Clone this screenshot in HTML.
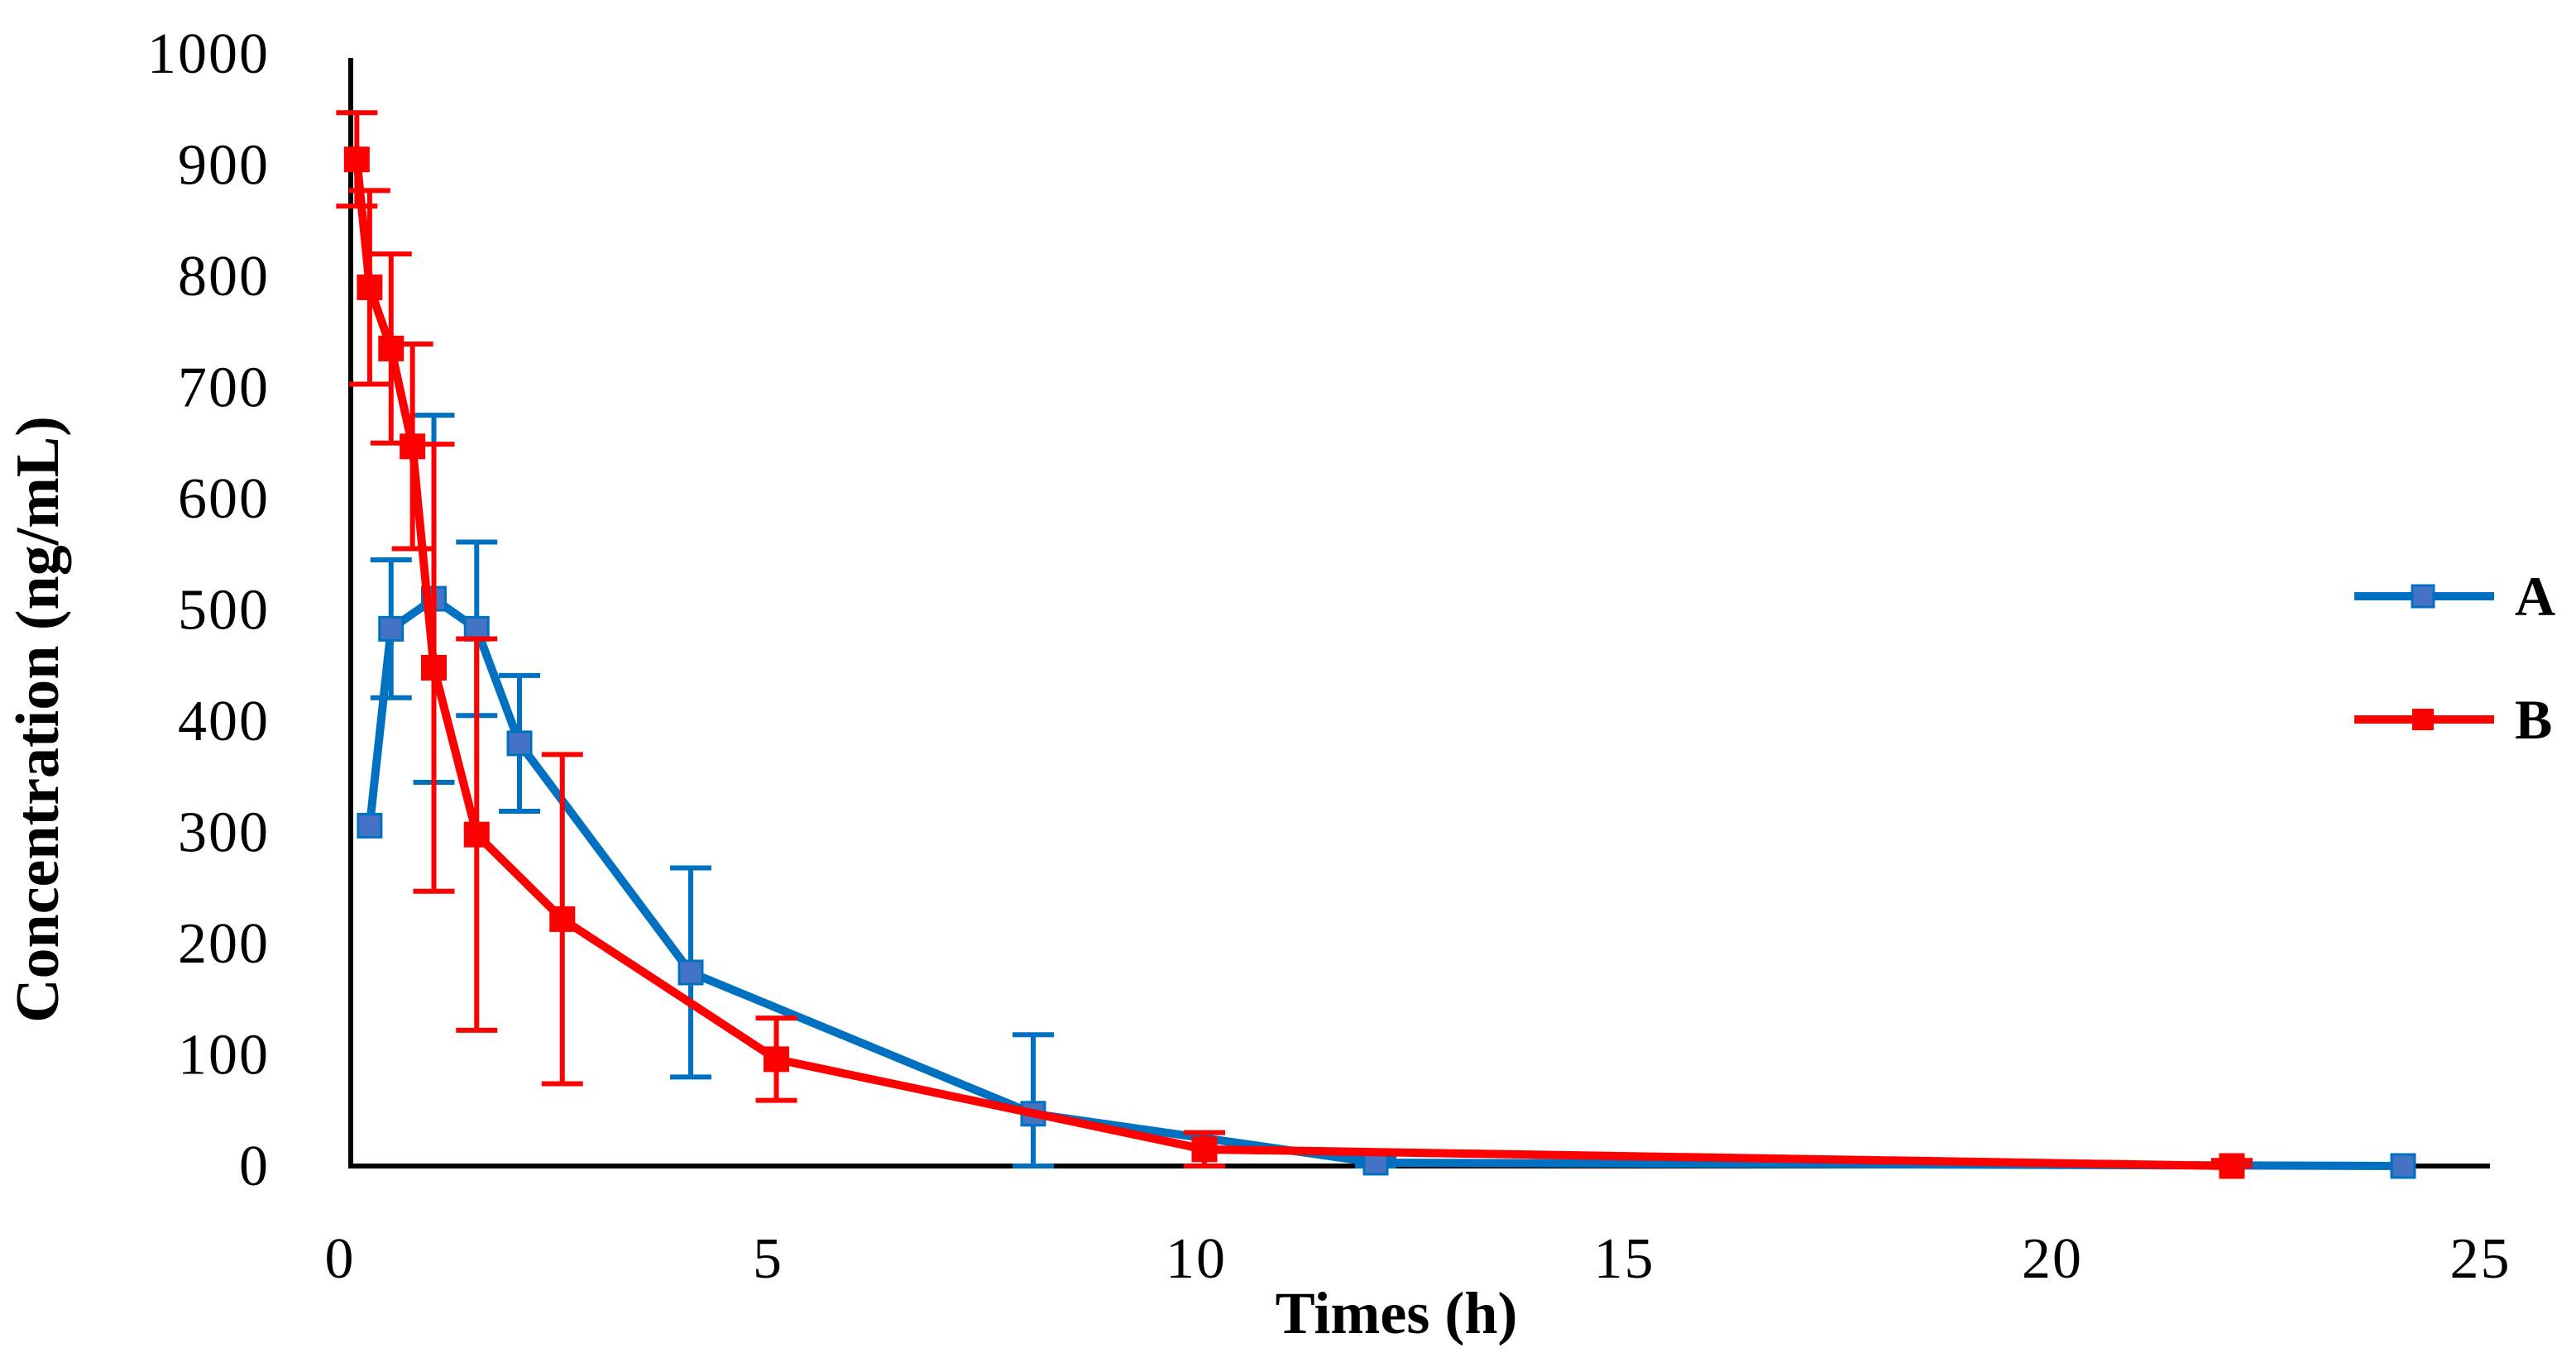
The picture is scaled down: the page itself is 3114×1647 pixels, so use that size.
<!DOCTYPE html>
<html><head><meta charset="utf-8"><style>
html,body{margin:0;padding:0;background:#fff;}
svg{display:block;font-family:"Liberation Serif",serif;}
</style></head><body>
<svg id="chart" width="3114" height="1647" viewBox="0 0 3114 1647" xmlns="http://www.w3.org/2000/svg">
<g id="grid"></g>
<g id="series"></g>
<g id="legend">
  <line x1="2846" y1="721" x2="3015" y2="721" stroke="#0070C0" stroke-width="10"/>
  <rect x="2916" y="708" width="26" height="26" fill="#4472C4" stroke="#0070C0" stroke-width="3"/>
  <text x="3040" y="744" font-size="68" font-weight="bold">A</text>
  <line x1="2846" y1="870" x2="3015" y2="870" stroke="#FF0000" stroke-width="10"/>
  <rect x="2916" y="857" width="26" height="26" fill="#FF0000"/>
  <text x="3040" y="893" font-size="68" font-weight="bold">B</text>
</g>
<text x="1688" y="1612" font-size="72" font-weight="bold" text-anchor="middle">Times (h)</text>
<text transform="translate(70,870) rotate(-90)" font-size="74" font-weight="bold" text-anchor="middle">Concentration (ng/mL)</text>
</svg>
<script>
const xTicks = [0, 5, 10, 15, 20, 25];
const yTicks = [0, 100, 200, 300, 400, 500, 600, 700, 800, 900, 1000];
const timesA = [0.25, 0.5, 1, 1.5, 2, 4, 8, 12, 24];
const valuesA = [306, 483, 510, 483, 380, 174, 47, 3, 0];
const errA = [0, 62, 165, 78, 61, 94, 71, 5, 0];
const timesB = [0.1, 0.25, 0.5, 0.75, 1, 1.5, 2.5, 5, 10, 22];
const valuesB = [905, 790, 735, 647, 448, 298, 222, 96, 15, 0];
const errB = [42, 87, 85, 92, 201, 176, 148, 37, 15, 5];

const NS = "http://www.w3.org/2000/svg";
const X0 = 421, XS = 103.5, Y0 = 1410, YS = 1.345;
const xs = v => X0 + v * XS;
const ys = v => Y0 - v * YS;
function mk(tag, attrs, parent) {
  const e = document.createElementNS(NS, tag);
  for (const k in attrs) e.setAttribute(k, attrs[k]);
  parent.appendChild(e);
  return e;
}
const axes = document.getElementById('grid');
yTicks.forEach(t => {
  const e = mk('text', {x: 326, y: ys(t) + 23, 'font-size': 70, 'text-anchor': 'end', 'letter-spacing': 2}, axes);
  e.textContent = t;
  
  
});
xTicks.forEach(t => {
  const e = mk('text', {x: xs(t) - 10, y: 1545, 'font-size': 70, 'text-anchor': 'middle', 'letter-spacing': 2}, axes);
  e.textContent = t;
  
  
});
const ya = mk('line', {x1: 424, y1: 70, x2: 424, y2: 1413, stroke: '#000', 'stroke-width': 6}, axes);


const xa = mk('line', {x1: 421, y1: 1410, x2: 3010, y2: 1410, stroke: '#000', 'stroke-width': 6}, axes);



const layer = document.getElementById('series');
function drawSeries(times, vals, errs, color, fill, name) {
  const g = mk('g', {}, layer);
  
  
  errs.forEach((er, i) => {
    if (!er) return;
    const x = xs(times[i]);
    const hi = ys(vals[i] + er), lo = ys(Math.max(0, vals[i] - er));
    const eb = mk('path', {d: `M${x},${hi}V${lo}M${x-25},${hi}H${x+25}M${x-25},${lo}H${x+25}`, stroke: color, 'stroke-width': 6, fill: 'none'}, g);
    
    
  });
  const pts = times.map((t, i) => xs(t) + ',' + ys(vals[i])).join(' ');
  const pl = mk('polyline', {points: pts, fill: 'none', stroke: color, 'stroke-width': 10, 'stroke-linejoin': 'round'}, g);
  
  
  times.forEach((t, i) => {
    const r = mk('rect', {x: xs(t) - 14, y: ys(vals[i]) - 14, width: 28, height: 28, fill: fill, stroke: color, 'stroke-width': 3}, g);
    
    
  });
}
drawSeries(timesA, valuesA, errA, '#0070C0', '#4472C4', 'a');
drawSeries(timesB, valuesB, errB, '#FF0000', '#FF0000', 'b');
</script>
</body></html>
